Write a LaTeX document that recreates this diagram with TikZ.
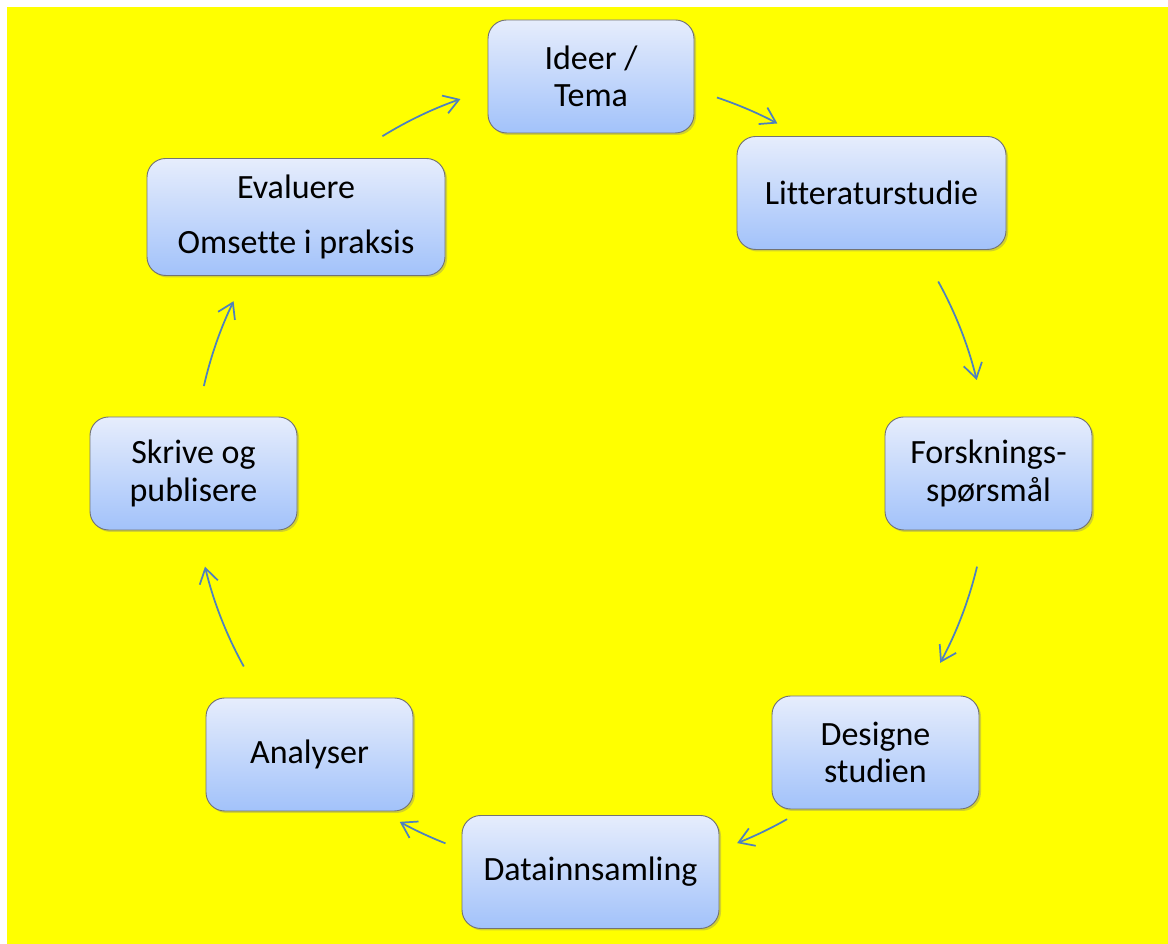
\documentclass[tikz,border=0pt]{standalone}
\usepackage{fontspec}
\setmainfont[Ligatures=NoCommon]{Carlito}
\usetikzlibrary{arrows.meta,shadows}
\definecolor{boxtop}{RGB}{230,237,252}
\definecolor{boxbot}{RGB}{162,194,250}
\definecolor{boxline}{RGB}{115,115,115}
\definecolor{flowblue}{RGB}{79,129,189}
\definecolor{bgyellow}{RGB}{255,255,0}

\begin{document}
\begin{tikzpicture}[x=0.75pt, y=0.75pt,
  box/.style={draw=boxline, line width=0.7pt, rounded corners=14pt,
    top color=boxtop, bottom color=boxbot, align=center,
    minimum height=84.75pt, inner sep=0pt,
    font=\fontsize{25.5}{28}\selectfont,
    drop shadow={opacity=0.35, shadow xshift=1.5pt, shadow yshift=-1.5pt}},
  flow/.style={draw=flowblue, line width=1.3pt,
    -{Straight Barb[length=11pt, width=14pt, line width=1.3pt]}}]

  \newcommand\R{397}

  %% background
  \fill[white] (0,0) rectangle (1168,944);
  \fill[bgyellow] (7,0) rectangle (1168,937);

  \coordinate (c) at (591,470); % centre of the cycle

  \node[box, minimum width=154.5pt] (idea)   at (591,867.5)   {Ideer /\\Tema};
  \node[box, minimum width=201.75pt] (litt)  at (871.5,751)   {Litteraturstudie};
  \node[box, minimum width=155.25pt] (forsk) at (988.5,470.5) {Forsknings-\\spørsmål};
  \node[box, minimum width=155.25pt] (design) at (875.5,191.5) {Designe\\studien};
  \node[box, minimum width=192.75pt] (data)  at (590.5,72)    {Datainnsamling};
  \node[box, minimum width=155.25pt] (analys) at (309.5,189.5) {Analyser};
  \node[box, minimum width=155.25pt] (skriv) at (193.5,470.5) {Skrive og\\publisere};
  \node[box, minimum width=223.5pt, minimum height=87.75pt] (eval) at (296,727)
    {Evaluere\\[13pt]Omsette i praksis};

  %% arrows round the cycle
  \draw[flow] ([shift={(71.5:\R)}]c) arc[start angle=71.5, end angle=62, radius=\R]; % idea->litt
  \draw[flow] ([shift={(29:\R)}]c) arc[start angle=29, end angle=13.7, radius=\R]; % litt->forsk
  \draw[flow] ([shift={(-13.5:\R)}]c) arc[start angle=-13.5, end angle=-28.4, radius=\R]; % forsk->design
  \draw[flow] ([shift={(-60.4:\R)}]c) arc[start angle=-60.4, end angle=-68.4, radius=\R]; % design->data
  \draw[flow] ([shift={(-111.5:\R)}]c) arc[start angle=-111.5, end angle=-118.8, radius=\R]; % data->analys
  \draw[flow] ([shift={(-151:\R)}]c) arc[start angle=-151, end angle=-166.5, radius=\R]; % analys->skriv
  \draw[flow] ([shift={(167.2:\R)}]c) arc[start angle=167.2, end angle=154.2, radius=\R]; % skriv->eval
  \draw[flow] ([shift={(121.7:\R)}]c) arc[start angle=121.7, end angle=109.2, radius=\R]; % eval->idea
\end{tikzpicture}
\end{document}
